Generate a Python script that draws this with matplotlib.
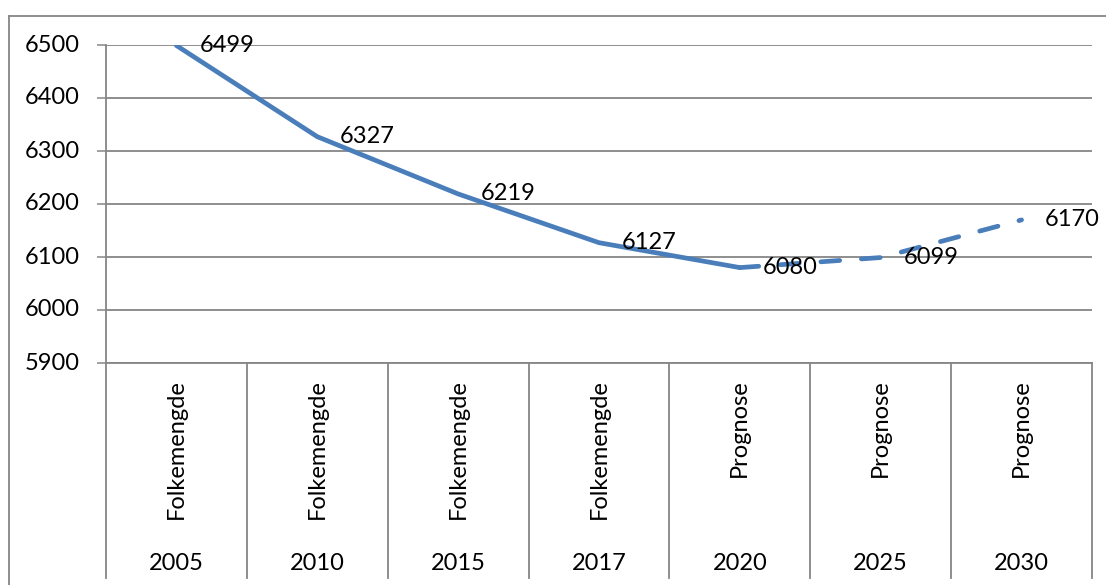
import matplotlib
matplotlib.use("Agg")
import matplotlib.pyplot as plt
from matplotlib.lines import Line2D
import matplotlib.transforms as mtransforms

years = ["2005", "2010", "2015", "2017", "2020", "2025", "2030"]
kinds = ["Folkemengde", "Folkemengde", "Folkemengde", "Folkemengde",
         "Prognose", "Prognose", "Prognose"]
values = [6499, 6327, 6219, 6127, 6080, 6099, 6170]
n_solid = 5  # first five points drawn solid, rest dashed (prognosis)
yticks = [5900, 6000, 6100, 6200, 6300, 6400, 6500]

W, H = 1106, 585
plt.rcParams['font.family'] = ['Lato', 'DejaVu Sans']
fig = plt.figure(figsize=(W / 100, H / 100), dpi=100)

L, R, T, B = 106, 1092, 45, 363
ax = fig.add_axes([L / W, 1 - B / H, (R - L) / W, (B - T) / H])

grid_c = "#868686"
line_c = "#4A7EBB"
fs = 17

x = list(range(len(values)))
ax.plot(x[:n_solid], values[:n_solid], color=line_c, lw=3.4,
        solid_capstyle="round", solid_joinstyle="round", zorder=3)
ax.plot(x[n_solid - 1:], values[n_solid - 1:], color=line_c, lw=3.4,
        linestyle=(0, (4.0, 4.6)), dash_capstyle="round", zorder=3)

for xi, v in zip(x, values):
    ax.annotate(str(v), (xi, v), xytext=(16.5, 0), textcoords="offset points",
                ha="left", va="center", fontsize=fs, color="black",
                annotation_clip=False, zorder=4)

ax.set_xlim(-0.5, len(values) - 0.5)
ax.set_ylim(5900, 6500)
ax.set_yticks(yticks)
ax.set_yticklabels([])
ax.set_xticks([])
ax.tick_params(axis="y", length=6.5, width=1.1, color=grid_c, pad=0)
ax.yaxis.grid(True, color=grid_c, lw=1.3)
ax.set_axisbelow(True)
for s in ["top", "right"]:
    ax.spines[s].set_visible(False)
for s in ["left", "bottom"]:
    ax.spines[s].set_color(grid_c)
    ax.spines[s].set_linewidth(1.3)

# y tick labels placed explicitly (right edge at pixel 80)
ytrans = mtransforms.blended_transform_factory(ax.transAxes, ax.transData)
xlab = -(L - 80) / (R - L)
for t in yticks:
    ax.text(xlab, t, str(t), ha="right", va="center", fontsize=fs,
            transform=ytrans, clip_on=False)

# category separators below the axis
trans = mtransforms.blended_transform_factory(ax.transData, ax.transAxes)
ybot = -(578 - B) / (B - T)
for i in range(len(values) + 1):
    ax.add_line(Line2D([i - 0.5, i - 0.5], [0, ybot], transform=trans,
                       color=grid_c, lw=1.3, clip_on=False))

y_kind_top = -(379 - B) / (B - T)
y_year = -(563 - B) / (B - T)
for i in range(len(values)):
    ax.text(i, y_kind_top, kinds[i], rotation=90, ha="center", va="top",
            fontsize=fs, transform=trans, clip_on=False)
    ax.text(i, y_year, years[i], ha="center", va="center",
            fontsize=fs, transform=trans, clip_on=False)

# outer chart border (partly cropped in the reference)
fig.add_artist(Line2D([9 / W, 1], [1 - 16 / H, 1 - 16 / H], transform=fig.transFigure,
                      color=grid_c, lw=1.3))
fig.add_artist(Line2D([9 / W, 9 / W], [0, 1 - 16 / H], transform=fig.transFigure,
                      color=grid_c, lw=1.3))

fig.savefig("out.png", dpi=100, facecolor="white")
